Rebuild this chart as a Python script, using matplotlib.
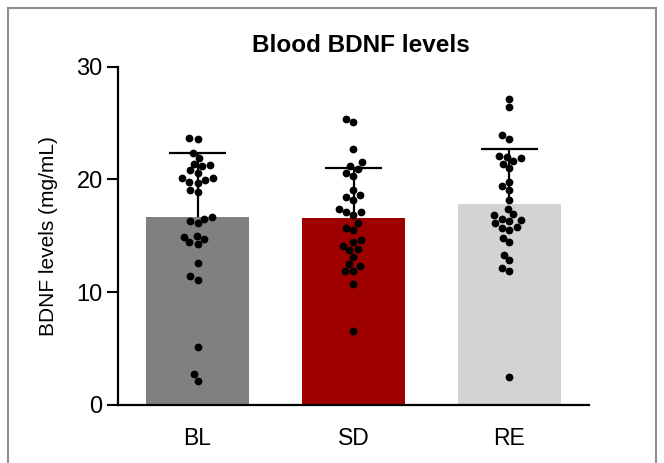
import numpy as np
import pandas as pd
import matplotlib
matplotlib.use("Agg")
import matplotlib.pyplot as plt
from matplotlib.lines import Line2D
import seaborn as sns

plt.rcParams['font.family'] = ['Liberation Sans', 'DejaVu Sans']

categories = ["BL", "SD", "RE"]
means = [16.7, 16.6, 17.8]
sds = [5.6, 4.4, 4.9]
colors = ["#808080", "#9e0000", "#d3d3d3"]

bl_values = [23.6, 23.7, 22.3, 21.9, 21.3, 21.2, 21.4, 20.8, 20.6, 20.1, 19.9,
             19.7, 19.8, 20.1, 18.9, 19.1, 16.7, 16.3, 16.1, 16.5, 15.0, 14.7,
             14.3, 14.4, 14.9, 12.6, 11.1, 11.4, 5.1, 2.1, 2.7]
sd_values = [25.4, 25.1, 22.7, 21.5, 21.2, 20.9, 20.3, 20.6, 19.1, 18.4, 18.2,
             18.6, 17.1, 16.8, 17.1, 17.4, 15.7, 15.5, 16.1, 14.6, 13.7, 14.1,
             13.8, 14.4, 13.1, 12.3, 11.9, 11.9, 12.5, 10.7, 6.5]
re_values = [27.1, 26.4, 23.6, 23.9, 22.1, 21.6, 21.4, 22.0, 21.9, 21.0, 19.8,
             19.1, 19.4, 18.2, 17.4, 16.8, 16.3, 15.8, 15.5, 15.7, 16.5, 16.1,
             16.9, 16.4, 14.8, 14.4, 13.3, 12.8, 12.1, 11.9, 2.5]

yticks = [0, 10, 20, 30]

fig = plt.figure(figsize=(6.64, 4.63), dpi=100)
ax = fig.add_axes([118/664, 1 - 404.7/463, (589 - 118)/664, (404.7 - 66.7)/463])

x = np.arange(len(categories))
ax.bar(x, means, width=0.66, color=colors, zorder=1)

# upper error bars (mean + SD)
tops = np.array(means) + np.array(sds)
ax.vlines(x, means, tops, color="black", lw=1.6, zorder=2)
ax.hlines(tops, x - 0.18, x + 0.18, color="black", lw=1.6, zorder=2)

df = pd.DataFrame({
    "group": ["BL"] * len(bl_values) + ["SD"] * len(sd_values) + ["RE"] * len(re_values),
    "value": bl_values + sd_values + re_values,
})
sns.swarmplot(data=df, x="group", y="value", order=categories, color="black",
              size=5.6, ax=ax, zorder=3)

ax.set_xlim(-0.51, 2.51)
ax.set_ylim(0, 30)
ax.set_yticks(yticks)
ax.set_xticks(x)
ax.set_xticklabels(categories)
ax.set_xlabel("")
ax.set_ylabel("BDNF levels (mg/mL)", fontsize=15, labelpad=13)
ax.tick_params(axis="y", labelsize=17, length=8, width=1.5, pad=3, color="black")
ax.tick_params(axis="x", labelsize=16.5, length=0, pad=16)
for s in ["top", "right"]:
    ax.spines[s].set_visible(False)
for s in ["left", "bottom"]:
    ax.spines[s].set_linewidth(1.6)
    ax.spines[s].set_color("black")

fig.text(361/664, 1 - 45/463, "Blood BDNF levels", ha="center", va="center",
         fontsize=17.5, fontweight="bold")

# outer frame lines
frame_kw = dict(transform=fig.transFigure, color="#909090", lw=1.5)
fig.add_artist(Line2D([8/664, 8/664], [0, 1 - 8/463], **frame_kw))
fig.add_artist(Line2D([8/664, 656/664], [1 - 8/463, 1 - 8/463], **frame_kw))
fig.add_artist(Line2D([656/664, 656/664], [0, 1 - 8/463], **frame_kw))

fig.savefig("out.png", dpi=100)
